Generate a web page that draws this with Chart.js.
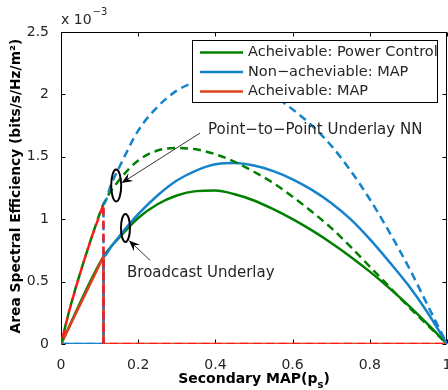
<!DOCTYPE html>
<html>
<head>
<meta charset="utf-8">
<script src="https://cdn.jsdelivr.net/npm/chart.js@4.4.1/dist/chart.umd.min.js"></script>
<style>
  html, body { margin: 0; padding: 0; background: #fff; }
  #wrap { width: 448px; height: 390px; }
</style>
</head>
<body>
<div id="wrap"><canvas id="aseChart" width="448" height="390"></canvas></div>
<script>
// Area spectral efficiency vs secondary MAP. ASE values are in units of 1e-3 bits/s/Hz/m^2.
const xTicks = [0, 0.2, 0.4, 0.6, 0.8, 1];
const yTicks = [0, 0.5, 1, 1.5, 2, 2.5];

// Broadcast underlay (solid lines)
const pcBroadcastP = [0, 0.11, 0.15, 0.2, 0.25, 0.3, 0.35, 0.4, 0.45, 0.5, 0.55, 0.6, 0.65, 0.7, 0.75, 0.8, 0.85, 0.9, 0.95, 1];
const pcBroadcastAse = [0, 0.70, 0.85, 1.01, 1.12, 1.19, 1.225, 1.23, 1.20, 1.15, 1.08, 1.00, 0.91, 0.81, 0.70, 0.58, 0.45, 0.31, 0.16, 0];

const mapBroadcastP = [0, 0.11, 0.11, 0.13, 0.15, 0.2, 0.25, 0.3, 0.35, 0.4, 0.45, 0.5, 0.55, 0.6, 0.65, 0.7, 0.75, 0.8, 0.85, 0.9, 0.95, 1];
const mapNonAchBroadcastAse = [0, 0, 0.70, 0.78, 0.86, 1.04, 1.19, 1.31, 1.39, 1.44, 1.45, 1.43, 1.385, 1.32, 1.235, 1.13, 1.00, 0.84, 0.66, 0.47, 0.25, 0];

const mapAchBroadcastP = [0, 0.11, 0.11, 1];
const mapAchBroadcastAse = [0, 0.70, 0, 0];

// Point-to-point underlay NN (dashed lines)
const pcP2PP = [0, 0.02, 0.04, 0.06, 0.08, 0.11, 0.15, 0.2, 0.25, 0.3, 0.35, 0.4, 0.45, 0.5, 0.55, 0.6, 0.65, 0.7, 0.75, 0.8, 0.85, 0.9, 0.95, 1];
const pcP2PAse = [0, 0.25, 0.47, 0.67, 0.86, 1.12, 1.31, 1.47, 1.55, 1.57, 1.56, 1.52, 1.46, 1.38, 1.29, 1.18, 1.06, 0.93, 0.78, 0.62, 0.46, 0.30, 0.15, 0];

const mapP2PP = [0, 0.11, 0.11, 0.13, 0.15, 0.2, 0.25, 0.3, 0.35, 0.4, 0.45, 0.5, 0.55, 0.6, 0.65, 0.7, 0.75, 0.8, 0.85, 0.9, 0.95, 1];
const mapNonAchP2PAse = [0, 0, 1.12, 1.28, 1.41, 1.71, 1.90, 2.03, 2.10, 2.13, 2.12, 2.07, 1.99, 1.88, 1.75, 1.59, 1.39, 1.16, 0.90, 0.62, 0.31, 0];

const mapAchP2PP = [0, 0.02, 0.04, 0.06, 0.08, 0.11, 0.11, 1];
const mapAchP2PAse = [0, 0.25, 0.47, 0.67, 0.86, 1.12, 0, 0];

const GREEN = '#008000';
const BLUE = '#1583cc';
const ORANGE_RED = '#e0401c';
const RED = '#ff1a1a';
const INK = '#262626';
const FONT = '"DejaVu Sans", sans-serif';

function toPoints(xs, ys) {
    return xs.map((x, i) => ({ x: x, y: ys[i] }));
}

function series(label, xs, ys, color, dashed, smooth, order, dashOffset) {
    return {
        label: label,
        data: toPoints(xs, ys),
        borderColor: color,
        backgroundColor: color,
        borderWidth: 2.5,
        borderDash: dashed ? [8, 5] : [],
        borderDashOffset: dashOffset || 0,
        pointRadius: 0,
        fill: false,
        cubicInterpolationMode: smooth ? 'monotone' : 'default',
        tension: 0,
        order: order,
        inLegend: !dashed
    };
}

// frame, inward tick marks, axis titles and the 10^-3 multiplier
const axesBox = {
    id: 'axesBox',
    beforeDatasetsDraw(chart) {
        const ctx = chart.ctx;
        const a = chart.chartArea;
        const xs = chart.scales.x, ys = chart.scales.y;
        const L = Math.round(a.left) + 0.5, R = Math.round(a.right) - 0.5;
        const T = Math.round(a.top) + 0.5, B = Math.round(a.bottom) - 0.5;
        ctx.save();
        ctx.strokeStyle = '#000';
        ctx.lineWidth = 1;
        ctx.strokeRect(L, T, R - L, B - T);
        ctx.beginPath();
        xTicks.forEach(v => {
            const px = Math.round(xs.getPixelForValue(v)) + 0.5;
            ctx.moveTo(px, B); ctx.lineTo(px, B - 4);
            ctx.moveTo(px, T); ctx.lineTo(px, T + 4);
        });
        yTicks.forEach(v => {
            const py = Math.round(ys.getPixelForValue(v)) + 0.5;
            ctx.moveTo(L, py); ctx.lineTo(L + 4, py);
            ctx.moveTo(R, py); ctx.lineTo(R - 4, py);
        });
        ctx.stroke();
        ctx.restore();
    },
    afterDraw(chart) {
        const ctx = chart.ctx;
        const a = chart.chartArea;
        ctx.save();
        ctx.fillStyle = '#000';
        // x title with subscript
        const main = 'Secondary MAP(p';
        ctx.font = 'bold 10px ' + FONT;
        const wSub = ctx.measureText('s').width;
        ctx.font = 'bold 14px ' + FONT;
        const wMain = ctx.measureText(main).width;
        const wClose = ctx.measureText(')').width;
        let x0 = (a.left + a.right) / 2 - (wMain + wSub + wClose) / 2;
        ctx.textBaseline = 'alphabetic';
        ctx.textAlign = 'left';
        ctx.fillText(main, x0, 383);
        ctx.font = 'bold 10px ' + FONT;
        ctx.fillText('s', x0 + wMain, 388);
        ctx.font = 'bold 14px ' + FONT;
        ctx.fillText(')', x0 + wMain + wSub, 383);

        // y title
        ctx.save();
        ctx.translate(16, (a.top + a.bottom) / 2 - 2);
        ctx.rotate(-Math.PI / 2);
        ctx.textAlign = 'center';
        ctx.textBaseline = 'middle';
        ctx.font = 'bold 13.8px ' + FONT;
        ctx.fillText('Area Spectral Efficiency (bits/s/Hz/m\u00B2)', 0, 0);
        ctx.restore();

        // exponent label
        ctx.fillStyle = INK;
        ctx.font = '14px ' + FONT;
        ctx.textAlign = 'left';
        ctx.fillText('x 10', a.left, 24);
        const w10 = ctx.measureText('x 10').width;
        ctx.font = '10px ' + FONT;
        ctx.fillText('\u22123', a.left + w10 + 1, 15);
        ctx.restore();
    }
};

// callouts marking the two curve families
const callouts = [
    { text: 'Point\u2212to\u2212Point Underlay NN', textAt: [0.381, 1.715], ring: [0.143, 1.27], rx: 5, ry: 16, from: [0.360, 1.69], to: [0.157, 1.29] },
    { text: 'Broadcast Underlay', textAt: [0.171, 0.57], ring: [0.167, 0.93], rx: 4.5, ry: 14, from: [0.231, 0.67], to: [0.176, 0.83] }
];

function drawArrow(ctx, x1, y1, x2, y2) {
    const ang = Math.atan2(y2 - y1, x2 - x1);
    ctx.beginPath();
    ctx.moveTo(x1, y1);
    ctx.lineTo(x2 - 6 * Math.cos(ang), y2 - 6 * Math.sin(ang));
    ctx.stroke();
    const len = 11, half = 4.5, notch = 7;
    const cx = Math.cos(ang), sy = Math.sin(ang);
    ctx.beginPath();
    ctx.moveTo(x2, y2);
    ctx.lineTo(x2 - len * cx - half * sy, y2 - len * sy + half * cx);
    ctx.lineTo(x2 - notch * cx, y2 - notch * sy);
    ctx.lineTo(x2 - len * cx + half * sy, y2 - len * sy - half * cx);
    ctx.closePath();
    ctx.fill();
}

const annotations = {
    id: 'annotations',
    afterDatasetsDraw(chart) {
        const ctx = chart.ctx;
        const xs = chart.scales.x, ys = chart.scales.y;
        const px = p => [xs.getPixelForValue(p[0]), ys.getPixelForValue(p[1])];
        ctx.save();
        ctx.strokeStyle = '#000';
        ctx.fillStyle = '#000';
        callouts.forEach(c => {
            const r = px(c.ring);
            ctx.lineWidth = 2;
            ctx.beginPath();
            ctx.ellipse(r[0], r[1], c.rx, c.ry, 0, 0, Math.PI * 2);
            ctx.stroke();
            ctx.lineWidth = 0.8;
            const f = px(c.from), t = px(c.to);
            drawArrow(ctx, f[0], f[1], t[0], t[1]);
            const tp = px(c.textAt);
            ctx.fillStyle = INK;
            ctx.font = '15px ' + FONT;
            ctx.textAlign = 'left';
            ctx.textBaseline = 'middle';
            ctx.fillText(c.text, tp[0], tp[1]);
            ctx.fillStyle = '#000';
        });

        // legend box in the upper right of the axes
        const box = { x: 192.5, y: 40.5, w: 245, h: 62 };
        ctx.fillStyle = '#fff';
        ctx.fillRect(box.x, box.y, box.w, box.h);
        const entries = chart.data.datasets.filter(d => d.inLegend);
        ctx.font = '14.5px ' + FONT;
        ctx.textBaseline = 'middle';
        entries.forEach((d, i) => {
            const y = 52.5 + i * 19.5;
            ctx.strokeStyle = d.borderColor;
            ctx.lineWidth = 2.5;
            ctx.setLineDash([]);
            ctx.beginPath();
            ctx.moveTo(200, y);
            ctx.lineTo(243, y);
            ctx.stroke();
            ctx.fillStyle = INK;
            ctx.fillText(d.label, 248, y);
        });
        ctx.lineWidth = 1;
        ctx.strokeStyle = '#000';
        ctx.strokeRect(box.x, box.y, box.w, box.h);
        ctx.restore();
    }
};

document.addEventListener('DOMContentLoaded', function() {
    const ctx = document.getElementById('aseChart').getContext('2d');

    new Chart(ctx, {
        type: 'line',
        data: {
            datasets: [
                series('Acheivable: Power Control', pcBroadcastP, pcBroadcastAse, GREEN, false, true, 6),
                series('Non\u2212acheviable: MAP', mapBroadcastP, mapNonAchBroadcastAse, BLUE, false, true, 5),
                series('Acheivable: MAP', mapAchBroadcastP, mapAchBroadcastAse, ORANGE_RED, false, false, 4),
                series('Acheivable: Power Control (P2P)', pcP2PP, pcP2PAse, GREEN, true, true, 3),
                series('Non\u2212acheviable: MAP (P2P)', mapP2PP, mapNonAchP2PAse, BLUE, true, true, 2),
                series('Acheivable: MAP (P2P)', mapAchP2PP, mapAchP2PAse, RED, true, false, 1, 6.5)
            ]
        },
        options: {
            responsive: false,
            animation: false,
            devicePixelRatio: 1,
            layout: { padding: { top: 32, right: 1, left: 0, bottom: 0 } },
            plugins: {
                legend: { display: false },
                tooltip: { enabled: false },
                title: { display: false }
            },
            scales: {
                x: {
                    type: 'linear',
                    min: 0,
                    max: 1,
                    grid: { display: false },
                    border: { display: false },
                    afterBuildTicks: s => { s.ticks = xTicks.map(v => ({ value: v })); },
                    afterFit: s => { s.height = 46; s.paddingLeft = 0; s.paddingRight = 0; },
                    ticks: {
                        autoSkip: false,
                        maxRotation: 0,
                        padding: 5,
                        color: INK,
                        font: { family: FONT, size: 14 },
                        callback: v => String(v)
                    }
                },
                y: {
                    type: 'linear',
                    min: 0,
                    max: 2.5,
                    grid: { display: false },
                    border: { display: false },
                    afterBuildTicks: s => { s.ticks = yTicks.map(v => ({ value: v })); },
                    afterFit: s => { s.width = 61; s.paddingTop = 0; s.paddingBottom = 0; },
                    ticks: {
                        autoSkip: false,
                        padding: 4,
                        color: INK,
                        font: { family: FONT, size: 14 },
                        callback: v => String(v)
                    }
                }
            }
        },
        plugins: [axesBox, annotations]
    });
});
</script>
</body>
</html>
